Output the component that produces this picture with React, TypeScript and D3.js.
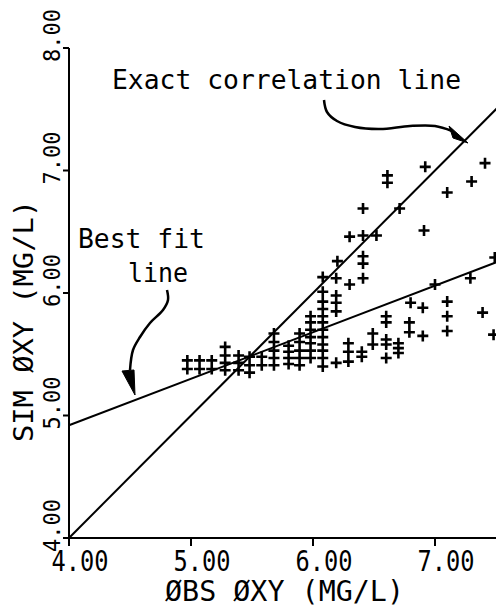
import React from 'react';
import * as d3 from 'd3';

// Observed (x) vs simulated (y) dissolved oxygen, mg/L
const obsX = [
  6.92, 6.61, 6.61, 7.41, 7.30, 7.10, 6.41, 6.71, 6.91, 6.30, 6.41, 6.52, 6.20, 6.41, 6.41, 6.08, 6.19, 6.30, 6.41, 6.08, 6.19,
  7.00, 7.29, 7.49, 6.80, 6.90, 7.10, 7.10, 7.10, 7.39, 7.48, 6.60, 6.60, 6.79, 6.79, 6.90, 6.49, 6.49, 6.60, 6.60, 6.70, 6.70, 6.70, 6.60, 6.40, 6.40, 6.29, 6.29, 6.29,
  6.08, 6.08, 6.08, 6.08, 6.08, 6.08, 6.08, 6.08, 6.08, 6.08,
  6.19, 6.19, 6.19,
  5.98, 5.98, 5.98, 5.98, 5.98, 5.98, 5.98,
  5.89, 5.89, 5.89, 5.89, 5.89,
  5.80, 5.80, 5.80, 5.80,
  5.68, 5.68, 5.68, 5.68, 5.68,
  5.58, 5.58,
  5.48, 5.48, 5.48,
  5.39, 5.39, 5.39,
  5.28, 5.28, 5.28, 5.28,
  5.17, 5.17,
  5.07, 5.07,
  4.97, 4.97,
];
const simY = [
  7.03, 6.96, 6.90, 7.06, 6.91, 6.82, 6.69, 6.69, 6.51, 6.46, 6.47, 6.47, 6.26, 6.30, 6.24, 6.13, 6.12, 6.07, 6.12, 6.01, 5.98,
  6.07, 6.12, 6.29, 5.92, 5.88, 5.93, 5.81, 5.69, 5.84, 5.66, 5.81, 5.76, 5.76, 5.68, 5.65, 5.67, 5.58, 5.62, 5.58, 5.59, 5.55, 5.51, 5.47, 5.52, 5.48, 5.59, 5.52, 5.44,
  5.93, 5.87, 5.81, 5.76, 5.70, 5.64, 5.58, 5.53, 5.47, 5.40,
  5.92, 5.85, 5.43,
  5.81, 5.76, 5.70, 5.64, 5.59, 5.53, 5.47,
  5.67, 5.60, 5.53, 5.47, 5.41,
  5.57, 5.52, 5.47, 5.42,
  5.67, 5.60, 5.53, 5.47, 5.41,
  5.48, 5.41,
  5.48, 5.41, 5.35,
  5.49, 5.43, 5.37,
  5.56, 5.49, 5.43, 5.37,
  5.45, 5.38,
  5.45, 5.38,
  5.45, 5.38,
];

const xTicks = [4, 5, 6, 7];
const xTickLabels = ['4.00', '5.00', '6.00', '7.00'];
const yTicks = [4, 5, 6, 7, 8];
const yTickLabels = ['4.00', '5.00', '6.00', '7.00', '8.00'];

const axisMin = 4;
const axisMax = 8;
const fitIntercept = 4.92; // best-fit value at OBS = 4.00
const fitSlope = 0.38;

const xTitle = 'ØBS ØXY (MG/L)';
const yTitle = 'SIM ØXY (MG/L)';
const exactLabel = 'Exact correlation line';
const bestLabel1 = 'Best fit';
const bestLabel2 = 'line';

const W = 496;
const H = 608;
const FONT = "'DejaVu Sans Mono', 'Liberation Mono', monospace";

export default function App() {
  const x = d3.scaleLinear().domain([axisMin, axisMax]).range([69, 557]);
  const y = d3.scaleLinear().domain([axisMin, axisMax]).range([538, 48]);

  const fit = (v: number) => fitIntercept + fitSlope * (v - axisMin);

  const curve = d3.line<[number, number]>().curve(d3.curveCatmullRom.alpha(0.5));
  const exactArrow: [number, number][] = [
    [324, 100], [327, 112], [337, 121], [355, 127], [380, 129], [410, 126], [435, 126], [452, 131],
  ];
  const bestArrow: [number, number][] = [
    [167, 290], [168, 300], [163, 310], [150, 323], [140, 337], [133, 350], [130, 370],
  ];

  const m = 5.5;
  const plus = (cx: number, cy: number) => `M${cx - m},${cy}H${cx + m}M${cx},${cy - m}V${cy + m}`;

  return (
    <svg width={W} height={H} style={{ position: 'absolute', left: 0, top: 0, background: '#fff' }}>
      <rect width={W} height={H} fill="#fff" />
      {/* axes */}
      <line x1={x(axisMin)} y1={y(axisMax)} x2={x(axisMin)} y2={y(axisMin)} stroke="#000" strokeWidth={2} />
      <line x1={x(axisMin)} y1={y(axisMin)} x2={W} y2={y(axisMin)} stroke="#000" strokeWidth={2} />
      {yTicks.map((v) => (
        <line key={'yt' + v} x1={x(axisMin) - 6} x2={x(axisMin)} y1={y(v)} y2={y(v)} stroke="#000" strokeWidth={2} />
      ))}
      {xTicks.map((v) => (
        <line key={'xt' + v} x1={x(v)} x2={x(v)} y1={y(axisMin)} y2={y(axisMin) + 8} stroke="#000" strokeWidth={2} />
      ))}
      {xTicks.map((v, i) => (
        <text key={'xl' + v} transform={`translate(${x(v) - 17.5},571) scale(1,1.18)`} fontFamily={FONT}
          fontSize={24} textLength={57} lengthAdjust="spacingAndGlyphs" fill="#000">{xTickLabels[i]}</text>
      ))}
      {yTicks.map((v, i) => (
        <text key={'yl' + v} transform={`translate(60,${y(v) + 14}) rotate(-90)`} fontFamily={FONT}
          fontSize={23} textLength={53} lengthAdjust="spacingAndGlyphs" fill="#000">{yTickLabels[i]}</text>
      ))}
      <text transform="translate(165,601) scale(1,1.1)" fontFamily={FONT} fontSize={26} textLength={239}
        lengthAdjust="spacingAndGlyphs" fill="#000">{xTitle}</text>
      <text transform="translate(33,442) rotate(-90)" fontFamily={FONT} fontSize={26} textLength={242}
        lengthAdjust="spacingAndGlyphs" fill="#000">{yTitle}</text>

      {/* reference lines */}
      <line x1={x(axisMin)} y1={y(axisMin)} x2={x(axisMax)} y2={y(axisMax)} stroke="#000" strokeWidth={2} />
      <line x1={x(axisMin)} y1={y(fit(axisMin))} x2={x(axisMax)} y2={y(fit(axisMax))} stroke="#000" strokeWidth={2} />

      {/* points */}
      <path d={obsX.map((v, i) => plus(x(v), y(simY[i]))).join('')} stroke="#000" strokeWidth={2.6} fill="none" />

      {/* annotations */}
      <text x={112} y={89} fontFamily={FONT} fontSize={26} textLength={349} lengthAdjust="spacingAndGlyphs" fill="#000">{exactLabel}</text>
      <text x={78} y={248} fontFamily={FONT} fontSize={26} textLength={127} lengthAdjust="spacingAndGlyphs" fill="#000">{bestLabel1}</text>
      <text x={128} y={282} fontFamily={FONT} fontSize={26} textLength={60} lengthAdjust="spacingAndGlyphs" fill="#000">{bestLabel2}</text>
      <path d={curve(exactArrow) || ''} stroke="#000" strokeWidth={2.5} fill="none" />
      <path d="M449,126 L453,138 L468,143 Z" fill="#000" stroke="#000" strokeWidth={1} />
      <path d={curve(bestArrow) || ''} stroke="#000" strokeWidth={2.5} fill="none" />
      <path d="M122,371 L134,370 L135,395 Z" fill="#000" stroke="#000" strokeWidth={1} />
    </svg>
  );
}
